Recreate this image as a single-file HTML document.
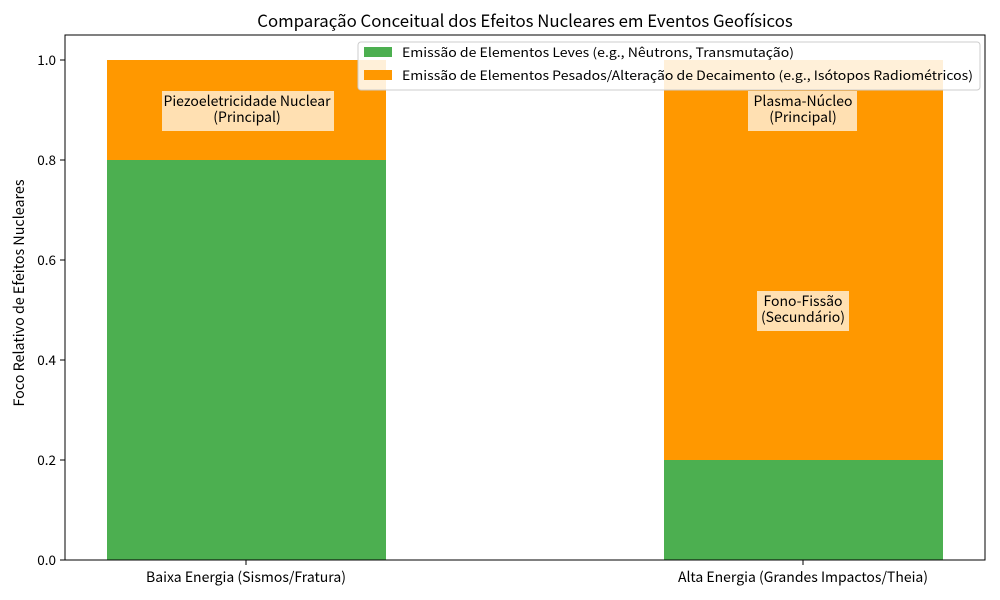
<!DOCTYPE html>
<html><head><meta charset="utf-8"><style>body{margin:0;background:#fff}svg{display:block}text{font-family:"Noto Sans CJK JP","DejaVu Sans",sans-serif;fill:#000}</style></head><body>
<svg width="1000" height="600" viewBox="0 0 1000 600" xmlns="http://www.w3.org/2000/svg">
<rect width="1000" height="600" fill="#fff"/>
<text x="525" y="27" font-size="16.8" text-anchor="middle">Comparação Conceitual dos Efeitos Nucleares em Eventos Geofísicos</text>
<rect x="107" y="160" width="279" height="400" fill="#4CAF50"/>
<rect x="107" y="60" width="279" height="100" fill="#FF9800"/>
<rect x="664" y="460" width="279" height="100" fill="#4CAF50"/>
<rect x="664" y="60" width="279" height="400" fill="#FF9800"/>
<rect x="65" y="35" width="920" height="525" fill="none" stroke="#000" stroke-width="1"/>
<g font-size="13.5" text-anchor="end">
<line x1="60" y1="560" x2="65" y2="560" stroke="#000"/><text x="56" y="565">0.0</text>
<line x1="60" y1="460" x2="65" y2="460" stroke="#000"/><text x="56" y="465">0.2</text>
<line x1="60" y1="360" x2="65" y2="360" stroke="#000"/><text x="56" y="365">0.4</text>
<line x1="60" y1="260" x2="65" y2="260" stroke="#000"/><text x="56" y="265">0.6</text>
<line x1="60" y1="160" x2="65" y2="160" stroke="#000"/><text x="56" y="165">0.8</text>
<line x1="60" y1="60" x2="65" y2="60" stroke="#000"/><text x="56" y="65">1.0</text>
</g>
<g font-size="14" text-anchor="middle">
<line x1="246" y1="560" x2="246" y2="565" stroke="#000"/><text x="246" y="582">Baixa Energia (Sismos/Fratura)</text>
<line x1="803" y1="560" x2="803" y2="565" stroke="#000"/><text x="803" y="582">Alta Energia (Grandes Impactos/Theia)</text>
</g>
<text transform="translate(24,293) rotate(-90)" font-size="14.3" text-anchor="middle">Foco Relativo de Efeitos Nucleares</text>
<g font-size="14" text-anchor="middle">
<rect x="162" y="91" width="172" height="40" fill="#FFE0B2"/>
<text x="247" y="106">Piezoeletricidade Nuclear</text><text x="247" y="122">(Principal)</text>
<rect x="748" y="91" width="109" height="40" fill="#FFE0B2"/>
<text x="803" y="106">Plasma-Núcleo</text><text x="803" y="122">(Principal)</text>
<rect x="757" y="291" width="92" height="40" fill="#FFE0B2"/>
<text x="803" y="306">Fono-Fissão</text><text x="803" y="322">(Secundário)</text>
</g>
<rect x="358" y="42" width="622" height="48" rx="3" fill="#fff" fill-opacity="0.85" stroke="#ccc"/>
<rect x="364" y="47" width="28" height="10" fill="#4CAF50"/>
<text x="402" y="57" font-size="12.5" textLength="392" lengthAdjust="spacingAndGlyphs">Emissão de Elementos Leves (e.g., Nêutrons, Transmutação)</text>
<rect x="364" y="70" width="28" height="10" fill="#FF9800"/>
<text x="402" y="80" font-size="12.5" textLength="571" lengthAdjust="spacingAndGlyphs">Emissão de Elementos Pesados/Alteração de Decaimento (e.g., Isótopos Radiométricos)</text>
</svg>
</body></html>
